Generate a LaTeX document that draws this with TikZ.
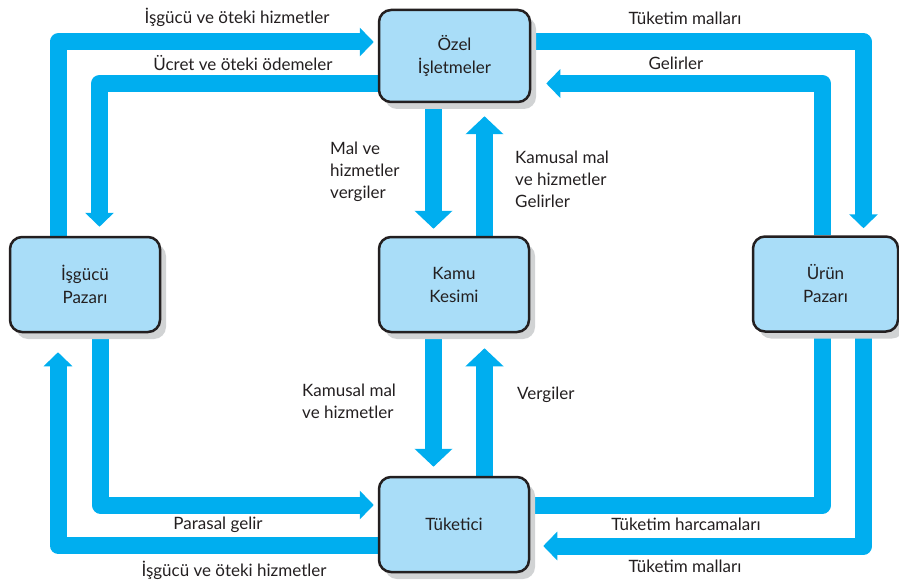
\documentclass[tikz,border=0pt]{standalone}
\usepackage{fontspec}
\setmainfont{Lato}
\usetikzlibrary{arrows.meta,shadows,backgrounds}
\definecolor{flowcyan}{HTML}{00AEEF}
\definecolor{boxfill}{HTML}{A9DDF8}
\definecolor{boxline}{HTML}{231F20}
\definecolor{shadowgrey}{HTML}{D1D3D4}
\definecolor{txt}{HTML}{231F20}
\tikzset{
  flow/.style={draw=flowcyan, line width=17pt, line join=round,
    -{Triangle[length=14pt 0 0, width=28pt 0 0]}},
  flowplain/.style={draw=flowcyan, line width=17pt, line join=round},
  flowmid/.style={draw=flowcyan, line width=17pt,
    -{Triangle[length=18pt 0 0, width=37pt 0 0]}},
  box/.style={draw=boxline, line width=2.5pt, fill=boxfill, rounded corners=12pt,
    minimum width=150pt, minimum height=95pt, align=center, text=txt,
    font=\fontsize{17}{23}\selectfont,
    drop shadow={shadow xshift=6pt, shadow yshift=-7pt, fill=shadowgrey, opacity=1}},
  lbl/.style={text=txt, font=\fontsize{17}{22}\selectfont, inner sep=0pt},
}
\begin{document}
\begin{tikzpicture}[x=1pt,y=-1pt]
\useasboundingbox (0,0) rectangle (899,583);
% boxes
\node[box, minimum width=151pt, minimum height=92pt] (ozel) at (454.5,56) {Özel\\İşletmeler};
\node[box] (isg) at (85,284.5) {İşgücü\\Pazarı};
\node[box] (kamu) at (454,284.5) {Kamu\\Kesimi};
\node[box, minimum width=145pt] (urun) at (825.5,284) {Ürün\\Pazarı};
\node[box] (tuk) at (454,524.5) {Tüketici};
% helper coordinates
\coordinate (lo) at (58,42);
\coordinate (li) at (99.5,83.5);
\coordinate (ro) at (863.5,42);
\coordinate (ri) at (822.5,83.5);
\coordinate (md) at (433.5,0);
\coordinate (mu) at (484.5,0);
\coordinate (blo) at (58,545.5);
\coordinate (bli) at (100.5,505);
\coordinate (bri) at (822.5,505);
\coordinate (bro) at (863.5,546);
\begin{scope}[on background layer]
  \draw[flow, shorten >=4pt] (isg.north -| lo) |- (ozel.west |- lo);
  \draw[flow, shorten >=9pt] (ozel.west |- li) -| (isg.north -| li);
  \draw[flow, shorten >=7pt] (ozel.east |- ro) -| (urun.north -| ro);
  \draw[flow, shorten >=15pt] (urun.north -| ri) |- (ozel.east |- ri);
  \draw[flowmid, shorten >=7pt] (ozel.south -| md) -- (kamu.north -| md);
  \draw[flowmid, shorten >=13pt] (kamu.north -| mu) -- (ozel.south -| mu);
  \draw[flowmid, shorten >=9pt] (kamu.south -| md) -- (tuk.north -| md);
  \draw[flowmid, shorten >=15pt] (tuk.north -| mu) -- (kamu.south -| mu);
  \draw[flow, shorten >=19pt] (tuk.west |- blo) -| (isg.south -| blo);
  \draw[flow, shorten >=4pt] (isg.south -| bli) |- (tuk.west |- bli);
  \draw[flowplain] (tuk.east |- bri) -| (urun.south -| bri);
  \draw[flow, shorten >=13pt] (urun.south -| bro) |- (tuk.east |- bro);
\end{scope}
% labels
\node[lbl] (l1) at (237,17) {İşgücü ve öteki hizmetler};
\node[lbl] (l2) at (243,63) {Ücret ve öteki ödemeler};
\node[lbl] (l3) at (685,18) {Tüketim malları};
\node[lbl] (l4) at (676,63) {Gelirler};
\node[lbl, align=left, anchor=west] (l5) at (330,172) {Mal ve\\hizmetler\\vergiler};
\node[lbl, align=left, anchor=west] (l6) at (515,179) {Kamusal mal\\ve hizmetler\\Gelirler};
\node[lbl, align=left, anchor=west] (l7) at (302,401.5) {Kamusal mal\\ve hizmetler};
\node[lbl, anchor=west] (l8) at (517,395) {Vergiler};
\node[lbl] (l9) at (218,525) {Parasal gelir};
\node[lbl] (l10) at (234,570) {İşgücü ve öteki hizmetler};
\node[lbl] (l11) at (686,524) {Tüketim harcamaları};
\node[lbl] (l12) at (685,566) {Tüketim malları};
\end{tikzpicture}
\end{document}
